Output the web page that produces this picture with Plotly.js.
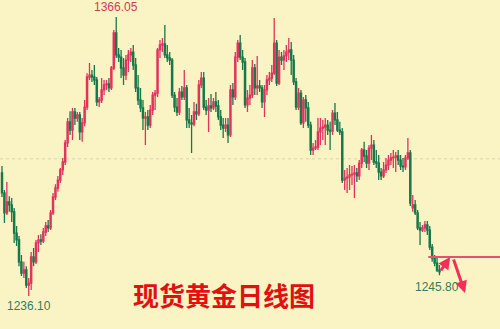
<!DOCTYPE html>
<html>
<head>
<meta charset="utf-8">
<script src="https://cdn.plot.ly/plotly-3.0.1.min.js"></script>
<style>html,body{margin:0;padding:0;background:#FAF3C3;}#chart{width:500px;height:329px;}</style>
</head>
<body>
<div id="chart"></div>
<script>
// Daily gold OHLC (USD/oz)
const openP = [1293.4,1284.1,1274.8,1279.9,1278.5,1275.3,1265.4,1262.2,1252.0,1246.8,1248.2,1241.2,1242.1,1254.3,1252.0,1260.8,1262.2,1261.7,1265.9,1268.7,
1267.8,1274.8,1282.2,1286.4,1290.1,1294.8,1298.5,1307.4,1317.2,1313.4,1321.8,1319.0,1320.4,1312.5,1316.7,1324.1,1338.1,1339.0,1338.1,1336.7,
1326.5,1327.4,1332.1,1334.4,1334.9,1333.0,1342.3,1358.6,1348.4,1347.4,1342.3,1339.0,1346.0,1348.4,1349.7,1343.7,1333.0,1327.4,1323.7,1319.0,
1319.5,1315.7,1322.7,1329.7,1330.6,1350.7,1353.0,1353.5,1348.4,1347.0,1346.0,1329.7,1324.1,1321.8,1331.1,1328.8,1333.0,1318.1,1316.7,1316.2,
1321.8,1320.9,1334.4,1337.6,1324.1,1322.7,1324.6,1323.7,1326.5,1324.6,1319.5,1315.7,1314.3,1315.7,1311.1,1332.1,1328.8,1347.4,1353.9,1347.4,
1345.1,1325.1,1328.3,1329.7,1342.3,1333.0,1333.9,1333.0,1326.5,1332.1,1336.7,1337.6,1339.9,1353.9,1335.3,1347.4,1346.0,1347.9,1349.7,1350.7,
1346.0,1335.8,1324.1,1330.6,1316.7,1327.4,1323.7,1315.7,1304.1,1305.0,1305.5,1312.5,1314.3,1314.8,1315.7,1313.4,1312.9,1321.3,1318.1,1313.4,
1312.5,1290.1,1291.0,1291.5,1292.5,1292.9,1293.4,1292.0,1298.0,1304.1,1301.3,1298.0,1305.0,1306.4,1298.5,1298.0,1293.8,1292.0,1294.8,1297.1,
1299.4,1300.4,1300.8,1301.3,1299.4,1296.6,1296.2,1300.4,1302.7,1277.1,1278.5,1274.8,1267.8,1266.8,1267.8,1269.2,1266.8,1258.9,1253.8,1251.4,
1248.2];
const highP = [1296.6,1285.5,1289.2,1282.6,1281.7,1277.1,1268.7,1264.0,1255.2,1252.0,1250.0,1244.5,1256.6,1258.5,1262.2,1264.5,1264.9,1267.8,1270.6,1271.5,
1276.2,1284.1,1288.2,1292.0,1295.7,1300.4,1308.8,1319.0,1322.2,1323.7,1323.7,1321.8,1321.8,1319.0,1327.4,1339.9,1344.6,1341.4,1343.7,1338.1,
1328.8,1337.6,1336.7,1336.7,1337.6,1343.2,1360.0,1366.05,1351.6,1350.7,1347.0,1348.4,1350.7,1351.6,1353.0,1347.0,1339.0,1333.0,1327.4,1321.8,
1322.7,1325.1,1331.1,1332.1,1351.6,1355.3,1356.3,1362.3,1353.0,1349.7,1347.0,1331.1,1328.3,1333.0,1333.9,1341.4,1334.4,1323.7,1320.4,1326.5,
1325.6,1336.7,1340.4,1340.4,1327.4,1328.3,1330.2,1328.3,1331.1,1327.4,1322.7,1319.0,1319.0,1319.0,1334.4,1335.3,1349.7,1355.3,1357.7,1350.7,
1347.0,1332.1,1334.4,1346.0,1344.2,1347.9,1336.7,1334.4,1334.4,1339.0,1340.4,1343.7,1365.6,1355.3,1350.7,1349.7,1350.7,1353.0,1356.3,1354.4,
1348.4,1337.6,1333.0,1332.1,1328.8,1329.7,1326.5,1317.2,1307.4,1308.8,1319.0,1319.0,1318.1,1319.0,1318.1,1317.2,1322.7,1326.0,1321.8,1317.2,
1314.3,1294.8,1295.7,1297.1,1296.6,1297.1,1295.7,1299.4,1305.0,1307.9,1304.1,1306.4,1311.1,1308.8,1304.1,1301.8,1295.7,1298.5,1300.4,1301.8,
1302.7,1304.1,1303.2,1304.1,1301.8,1300.4,1301.8,1309.7,1304.1,1283.1,1280.8,1276.2,1270.6,1269.2,1271.0,1271.0,1268.7,1260.3,1255.2,1253.8,
1250.5];
const lowP = [1282.2,1270.1,1273.8,1275.3,1270.6,1260.8,1259.4,1250.0,1245.4,1244.5,1239.8,1236.1,1238.9,1250.0,1251.0,1256.6,1259.9,1260.8,1264.0,1265.9,
1266.8,1273.8,1280.8,1284.6,1288.7,1292.5,1297.1,1305.5,1311.1,1308.8,1315.7,1317.2,1308.8,1307.9,1315.2,1322.7,1336.7,1335.8,1334.4,1324.6,
1324.1,1326.0,1329.7,1332.1,1331.1,1332.1,1341.4,1347.0,1345.1,1337.6,1334.4,1336.7,1340.4,1345.1,1341.4,1331.1,1325.1,1321.8,1313.4,1306.4,
1313.4,1314.3,1320.4,1322.7,1328.8,1347.0,1349.7,1347.0,1345.1,1343.7,1328.3,1321.8,1319.9,1320.4,1327.4,1327.4,1314.3,1314.3,1302.7,1315.2,
1318.1,1319.9,1333.0,1322.7,1320.4,1312.5,1321.8,1322.7,1321.8,1318.1,1313.4,1309.7,1312.5,1307.4,1310.2,1325.1,1327.4,1345.1,1346.0,1341.4,
1323.7,1321.8,1325.1,1328.3,1329.7,1329.7,1331.1,1323.7,1319.5,1329.7,1334.4,1335.8,1339.0,1333.9,1334.4,1343.7,1341.4,1345.1,1346.0,1339.0,
1334.4,1322.7,1322.7,1315.7,1314.3,1317.2,1314.3,1301.8,1301.8,1304.1,1304.1,1306.4,1308.8,1306.4,1311.1,1304.1,1311.1,1315.7,1312.5,1311.1,
1288.7,1285.5,1284.1,1285.5,1287.8,1281.7,1289.2,1290.1,1295.7,1298.5,1295.7,1294.8,1299.4,1297.1,1295.7,1290.1,1290.1,1291.0,1293.4,1294.8,
1297.1,1295.7,1293.8,1297.1,1294.8,1293.8,1294.8,1299.4,1278.0,1275.3,1273.8,1266.8,1259.9,1265.9,1265.9,1264.5,1257.5,1252.0,1250.0,1247.3,
1245.8];
const closeP = [1284.1,1274.8,1279.9,1278.5,1275.3,1265.4,1262.2,1252.0,1246.8,1248.2,1241.2,1242.1,1254.3,1252.0,1260.8,1262.2,1261.7,1265.9,1268.7,1267.8,
1274.8,1282.2,1286.4,1290.1,1294.8,1298.5,1307.4,1317.2,1313.4,1321.8,1319.0,1320.4,1312.5,1316.7,1324.1,1338.1,1339.0,1338.1,1336.7,1326.5,
1327.4,1332.1,1334.4,1334.9,1333.0,1342.3,1358.6,1348.4,1347.4,1342.3,1339.0,1346.0,1348.4,1349.7,1343.7,1333.0,1327.4,1323.7,1319.0,1319.5,
1315.7,1322.7,1329.7,1330.6,1350.7,1353.0,1353.5,1348.4,1347.0,1346.0,1329.7,1324.1,1321.8,1331.1,1328.8,1333.0,1318.1,1316.7,1316.2,1321.8,
1320.9,1334.4,1337.6,1324.1,1322.7,1324.6,1323.7,1326.5,1324.6,1319.5,1315.7,1314.3,1315.7,1311.1,1332.1,1328.8,1347.4,1353.9,1347.4,1345.1,
1325.1,1328.3,1329.7,1342.3,1333.0,1333.9,1333.0,1326.5,1332.1,1336.7,1337.6,1339.9,1353.9,1335.3,1347.4,1346.0,1347.9,1349.7,1350.7,1346.0,
1335.8,1324.1,1330.6,1316.7,1327.4,1323.7,1315.7,1304.1,1305.0,1305.5,1312.5,1314.3,1314.8,1315.7,1313.4,1312.9,1321.3,1318.1,1313.4,1312.5,
1290.1,1291.0,1291.5,1292.5,1292.9,1293.4,1292.0,1298.0,1304.1,1301.3,1298.0,1305.0,1306.4,1298.5,1298.0,1293.8,1292.0,1294.8,1297.1,1299.4,
1300.4,1300.8,1301.3,1299.4,1296.6,1296.2,1300.4,1302.7,1279.4,1278.5,1274.8,1267.8,1266.8,1267.8,1269.2,1266.8,1258.9,1253.8,1251.4,1248.2,
1247.3];

// labels
const titleText = "现货黄金日线图";
const highLabel = {idx: 47, price: 1366.05, text: "1366.05"};
const lowLabel = {idx: 11, price: 1236.10, text: "1236.10"};
const lastLabel = {idx: 180, price: 1245.80, text: "1245.80"};
const gridLevel = 1300;
const resistLevel = 1254.3;
const resistStart = 175.4;
// drawn arrows: [tailIdx, tailPrice, headIdx, headPrice]
const arrowUp = [180.2, 1247.3, 184.4, 1254.3];
const arrowDown = [185.6, 1253.8, 190.5, 1237.5];

const idx = closeP.map((_, i) => i);

const trace = {
  type: 'candlestick',
  x: idx, open: openP, high: highP, low: lowP, close: closeP,
  increasing: {line: {color: '#e2335f', width: 1.3}, fillcolor: '#f2a3b0'},
  decreasing: {line: {color: '#17784a', width: 1.3}, fillcolor: '#0c6a3b'},
  whiskerwidth: 0,
  hoverinfo: 'skip',
  showlegend: false
};

const red = '#f0305a';
const layout = {
  width: 500, height: 329,
  margin: {l: 0, r: 0, t: 0, b: 0},
  paper_bgcolor: '#FAF3C3', plot_bgcolor: '#FAF3C3',
  showlegend: false,
  xaxis: {range: [-0.82, 204.9], visible: false, rangeslider: {visible: false}, fixedrange: true},
  yaxis: {range: [1220.72, 1373.97], visible: false, fixedrange: true},
  shapes: [
    {type: 'line', xref: 'paper', x0: 0, x1: 1, yref: 'y', y0: gridLevel, y1: gridLevel,
     line: {color: '#dcd4b0', width: 1, dash: 'dot'}, layer: 'below'},
    {type: 'line', xref: 'x', x0: resistStart, x1: 204.9, yref: 'y', y0: resistLevel, y1: resistLevel,
     line: {color: '#e8506c', width: 2}}
  ],
  annotations: [
    {x: highLabel.idx, y: highLabel.price, xref: 'x', yref: 'y', text: highLabel.text, showarrow: false,
     xanchor: 'center', yanchor: 'bottom', yshift: 1, font: {family: 'Liberation Sans, Arial', size: 12, color: '#cf3d60'}},
    {x: lowLabel.idx, y: lowLabel.price, xref: 'x', yref: 'y', text: lowLabel.text, showarrow: false,
     xanchor: 'center', yanchor: 'top', yshift: -1, font: {family: 'Liberation Sans, Arial', size: 12, color: '#3b7a5c'}},
    {x: lastLabel.idx, y: lastLabel.price, xref: 'x', yref: 'y', text: lastLabel.text, showarrow: false,
     xanchor: 'center', yanchor: 'top', xshift: -2, yshift: -3, font: {family: 'Liberation Sans, Arial', size: 12, color: '#3b7a5c'}},
    {x: arrowUp[2], y: arrowUp[3], ax: arrowUp[0], ay: arrowUp[1], xref: 'x', yref: 'y', axref: 'x', ayref: 'y',
     text: '', showarrow: true, arrowhead: 2, arrowsize: 0.8, arrowwidth: 3, arrowcolor: red},
    {x: arrowDown[2], y: arrowDown[3], ax: arrowDown[0], ay: arrowDown[1], xref: 'x', yref: 'y', axref: 'x', ayref: 'y',
     text: '', showarrow: true, arrowhead: 2, arrowsize: 0.8, arrowwidth: 3, arrowcolor: red},
    {x: 0.447, y: 0.105, xref: 'paper', yref: 'paper', text: '<b>' + titleText + '</b>', showarrow: false,
     xanchor: 'center', yanchor: 'middle', font: {family: 'Noto Sans CJK SC', size: 26, color: '#e3100f'}}
  ]
};

Plotly.newPlot('chart', [trace], layout, {displayModeBar: false, staticPlot: true});
</script>
</body>
</html>
